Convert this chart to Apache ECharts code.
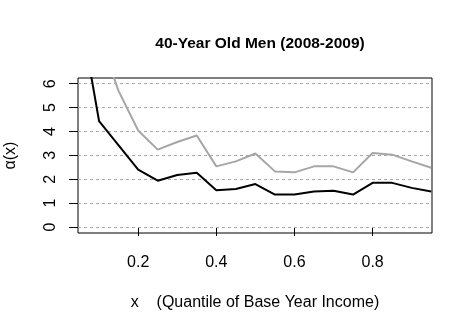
<!DOCTYPE html>
<html>
<head>
<meta charset="utf-8">
<script src="https://cdn.jsdelivr.net/npm/echarts@6/dist/echarts.min.js"></script>
<style>
  html, body { margin: 0; padding: 0; background: #fff; }
  #main { width: 472px; height: 331px; }
</style>
</head>
<body>
<div id="main"></div>
<script>
// quantile grid and the two alpha(x) curves
var xs = [0.05, 0.10, 0.15, 0.20, 0.25, 0.30, 0.35, 0.40, 0.45, 0.50,
          0.55, 0.60, 0.65, 0.70, 0.75, 0.80, 0.85, 0.90, 0.95];
var blackVals = [9.1, 4.43, 3.42, 2.40, 1.94, 2.18, 2.27, 1.54, 1.59, 1.80,
                 1.36, 1.36, 1.49, 1.52, 1.36, 1.85, 1.85, 1.64, 1.49];
var grayVals = [12.0, 8.0, 5.69, 4.04, 3.24, 3.56, 3.83, 2.54, 2.75, 3.08,
                2.33, 2.29, 2.54, 2.54, 2.29, 3.10, 3.03, 2.75, 2.48];
var xTicks = [0.2, 0.4, 0.6, 0.8];
var yTicks = [0, 1, 2, 3, 4, 5, 6];

function pairs(vals) {
  return xs.map(function (x, i) { return [x, vals[i]]; });
}

var font = 'Liberation Sans, Arial, sans-serif';
var myChart = echarts.init(document.getElementById('main'), null, {renderer: 'canvas'});
myChart.setOption({
  animation: false,
  backgroundColor: '#fff',
  title: {
    text: '40-Year Old Men (2008-2009)',
    left: 255, top: 31, textAlign: 'center',
    textStyle: {fontFamily: font, fontSize: 15.5, fontWeight: 'bold', color: '#000'}
  },
  grid: {
    left: 78, right: 40, top: 78, bottom: 98,
    containLabel: false, outerBoundsMode: 'none',
    show: true, borderColor: '#000', borderWidth: 1, backgroundColor: 'transparent'
  },
  xAxis: {
    type: 'value', min: 0.046, max: 0.952,
    name: 'x    (Quantile of Base Year Income)',
    nameLocation: 'middle', nameGap: 62,
    nameTextStyle: {fontFamily: font, fontSize: 16, color: '#000'},
    axisLine: {show: false},
    axisTick: {show: true, inside: false, length: 9, customValues: xTicks,
               lineStyle: {color: '#000', width: 1}},
    axisLabel: {customValues: xTicks, margin: 22, fontFamily: font, fontSize: 16, color: '#000',
                formatter: function (v) { return v.toFixed(1); }},
    splitLine: {show: false}
  },
  yAxis: {
    type: 'value', min: -0.25, max: 6.24,
    name: 'α(x)', nameLocation: 'middle', nameGap: 59, nameRotate: 90,
    nameTextStyle: {fontFamily: font, fontSize: 16, color: '#000'},
    axisLine: {show: false},
    axisTick: {show: true, inside: false, length: 9, customValues: yTicks,
               lineStyle: {color: '#000', width: 1}},
    axisLabel: {customValues: yTicks, rotate: 90, margin: 19, fontFamily: font, fontSize: 16,
                color: '#000'},
    splitLine: {show: false}
  },
  series: [
    {
      name: 'upper', type: 'line', data: pairs(grayVals), showSymbol: false, clip: true,
      lineStyle: {color: '#a6a6a6', width: 2}, z: 3,
      markLine: {
        silent: true, symbol: ['none', 'none'], label: {show: false},
        lineStyle: {color: '#a8a8a8', type: [3, 3], width: 1},
        data: yTicks.map(function (v) { return {yAxis: v}; }),
        z: 1
      }
    },
    {
      name: 'alpha', type: 'line', data: pairs(blackVals), showSymbol: false, clip: true,
      lineStyle: {color: '#000', width: 2}, z: 4
    }
  ]
});
</script>
</body>
</html>
